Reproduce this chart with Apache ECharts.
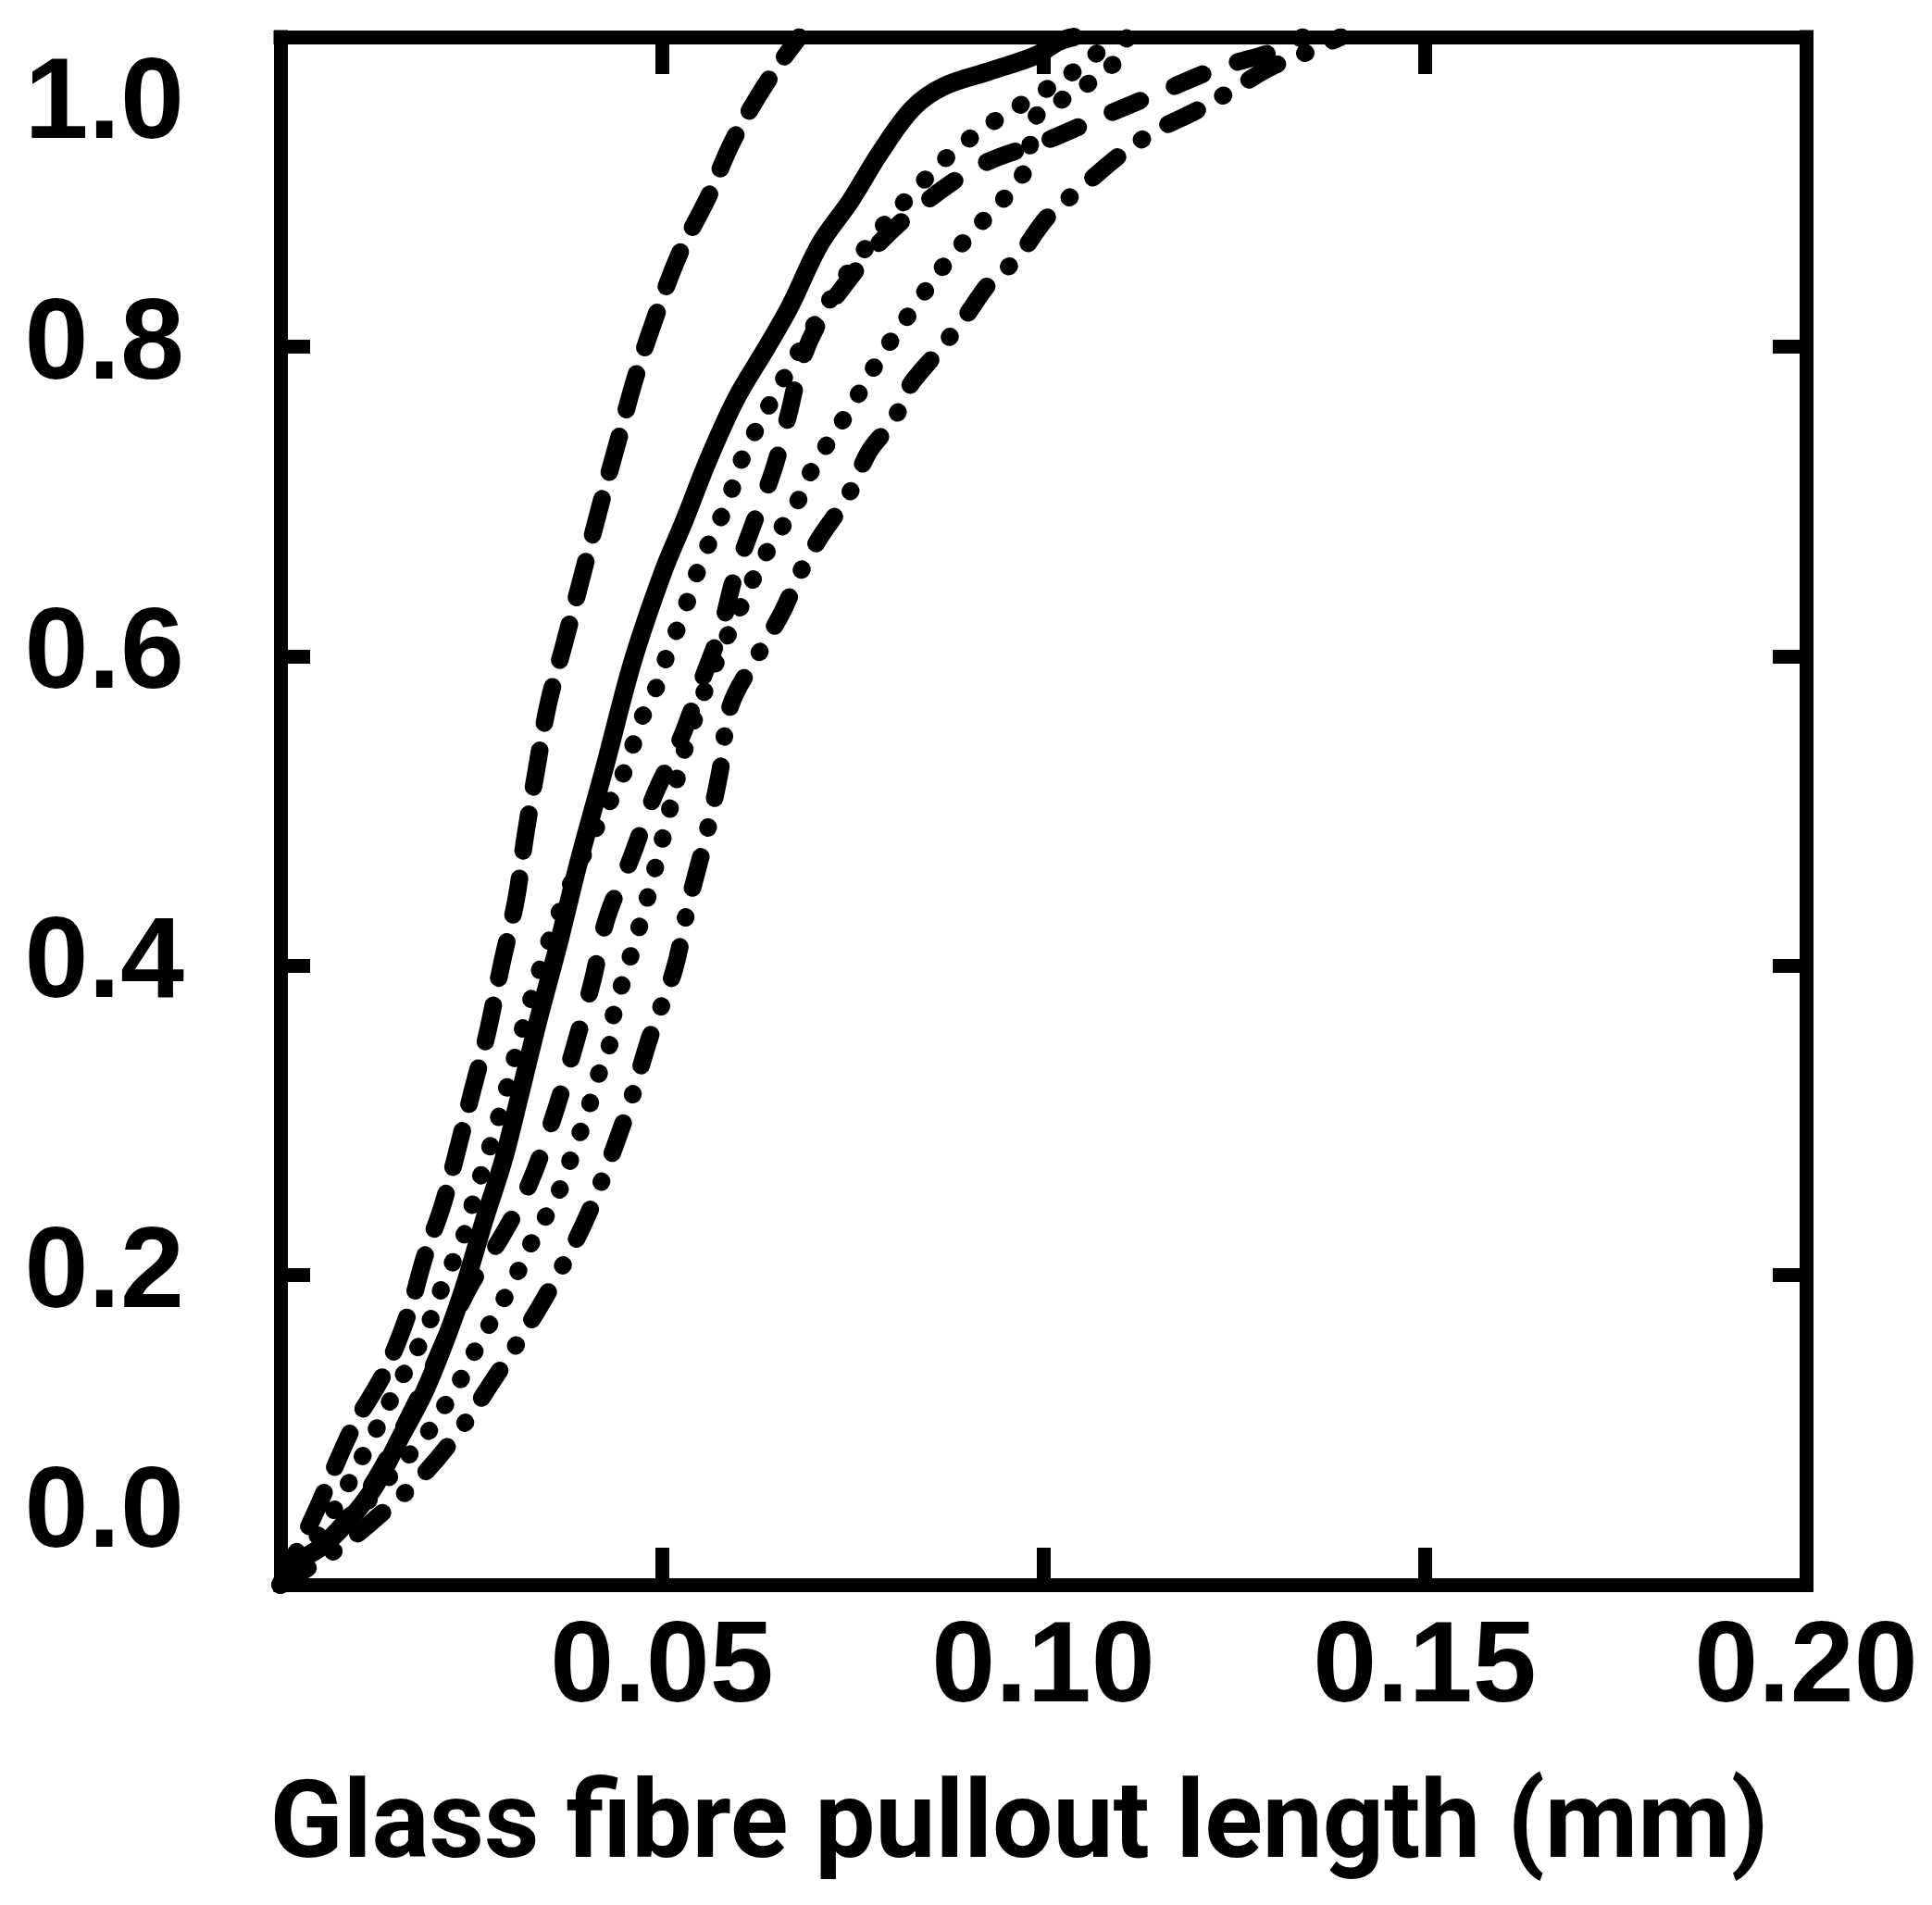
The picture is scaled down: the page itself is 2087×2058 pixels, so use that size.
<!DOCTYPE html>
<html>
<head>
<meta charset="utf-8">
<title>Glass fibre pullout length</title>
<script src="https://cdn.jsdelivr.net/npm/echarts@6/dist/echarts.min.js"></script>
<style>
  html, body { margin: 0; padding: 0; background: #fff; }
  #chart { width: 2087px; height: 2058px; }
</style>
</head>
<body>
<div id="chart"></div>
<script>
// tick values and their printed labels
const xTicks = [0.05, 0.10, 0.15, 0.20];
const xTickLabels = ['0.05', '0.10', '0.15', '0.20'];
const yTicks = [0, 0.2, 0.4, 0.6, 0.8, 1.0];
const yTickLabels = ['0.0', '0.2', '0.4', '0.6', '0.8', '1.0'];
const xAxisTitle = 'Glass fibre pullout length (mm)';

// cumulative curves, [pullout length (mm), fraction]
const longDash = [
  [0, 0], [0.0045, 0.046], [0.0094, 0.101], [0.0136, 0.137], [0.0168, 0.176],
  [0.0189, 0.212], [0.0213, 0.246], [0.0233, 0.283], [0.0252, 0.32], [0.0271, 0.356],
  [0.029, 0.401], [0.0309, 0.443], [0.0321, 0.484], [0.0335, 0.525], [0.0351, 0.569],
  [0.0372, 0.608], [0.0395, 0.651], [0.0419, 0.697], [0.0443, 0.74], [0.0464, 0.778],
  [0.049, 0.817], [0.0523, 0.86], [0.0561, 0.897], [0.0592, 0.932], [0.0629, 0.964],
  [0.0656, 0.984], [0.068, 1.0]
];
const solid = [
  [0, 0], [0.0017, 0.0125], [0.0063, 0.028], [0.0119, 0.06], [0.0157, 0.095],
  [0.0189, 0.125], [0.0217, 0.159], [0.024, 0.191], [0.0268, 0.237], [0.0292, 0.274],
  [0.0315, 0.319], [0.0338, 0.365], [0.0365, 0.415], [0.039, 0.465], [0.0426, 0.53],
  [0.0462, 0.597], [0.0502, 0.655], [0.0529, 0.687], [0.0561, 0.727], [0.0597, 0.766],
  [0.0638, 0.8], [0.0668, 0.826], [0.0707, 0.866], [0.0747, 0.894], [0.0787, 0.926],
  [0.0829, 0.954], [0.0869, 0.968], [0.093, 0.978], [0.099, 0.988], [0.102, 0.997],
  [0.104, 1.0]
];
const dottedInner = [
  [0, 0], [0.006, 0.04], [0.012, 0.095], [0.0155, 0.13], [0.0178, 0.151],
  [0.0196, 0.1705], [0.021, 0.19], [0.0243, 0.229], [0.0254, 0.25], [0.0285, 0.3],
  [0.0318, 0.36], [0.0355, 0.42], [0.04, 0.475], [0.0442, 0.516], [0.0458, 0.535],
  [0.0468, 0.553], [0.0484, 0.571], [0.05, 0.588], [0.0508, 0.604], [0.0525, 0.623],
  [0.0539, 0.644], [0.0553, 0.663], [0.0569, 0.681], [0.0587, 0.7], [0.0599, 0.72],
  [0.0616, 0.739], [0.0655, 0.775], [0.0695, 0.81], [0.074, 0.845], [0.0785, 0.875],
  [0.083, 0.9], [0.088, 0.925], [0.094, 0.947], [0.1, 0.965], [0.106, 0.985],
  [0.109, 1.0]
];
const shortDash = [
  [0, 0], [0.01, 0.05], [0.018, 0.12], [0.0245, 0.19], [0.029, 0.225],
  [0.0326, 0.2587], [0.0357, 0.301], [0.0385, 0.347], [0.0409, 0.39], [0.0428, 0.431],
  [0.046, 0.47], [0.049, 0.51], [0.0525, 0.547], [0.0553, 0.585], [0.0577, 0.617],
  [0.0595, 0.651], [0.0618, 0.683], [0.0646, 0.72], [0.0666, 0.756], [0.0683, 0.79],
  [0.0705, 0.815], [0.0743, 0.842], [0.0787, 0.868], [0.0847, 0.894], [0.0921, 0.918],
  [0.1004, 0.933], [0.1079, 0.949], [0.1152, 0.964], [0.123, 0.98], [0.131, 0.992],
  [0.134, 1.0]
];
const dottedOuter = [
  [0, 0], [0.008, 0.035], [0.0125, 0.06], [0.0191, 0.097], [0.0217, 0.117],
  [0.024, 0.136], [0.0261, 0.157], [0.0289, 0.181], [0.031, 0.201], [0.0329, 0.221],
  [0.035, 0.24], [0.0373, 0.263], [0.0385, 0.283], [0.0401, 0.302], [0.0412, 0.323],
  [0.0431, 0.348], [0.0437, 0.369], [0.0465, 0.416], [0.0479, 0.44], [0.0505, 0.49],
  [0.053, 0.54], [0.0562, 0.585], [0.0597, 0.625], [0.0635, 0.665], [0.0678, 0.7],
  [0.0699, 0.7226], [0.0745, 0.7585], [0.0786, 0.793], [0.083, 0.825], [0.0877, 0.857],
  [0.0926, 0.884], [0.0974, 0.912], [0.0992, 0.95], [0.1023, 0.959], [0.1065, 0.972],
  [0.1098, 0.986], [0.111, 1.0]
];
const dashDot = [
  [0, 0], [0.008, 0.025], [0.013, 0.045], [0.018, 0.0674], [0.0231, 0.0971],
  [0.0278, 0.1315], [0.032, 0.1636], [0.0361, 0.198], [0.0399, 0.2347], [0.0431, 0.2737],
  [0.0459, 0.3126], [0.0485, 0.355], [0.0516, 0.397], [0.0535, 0.44], [0.0558, 0.484],
  [0.0576, 0.525], [0.059, 0.568], [0.0625, 0.6], [0.0658, 0.6287], [0.0681, 0.6537],
  [0.0707, 0.6766], [0.0743, 0.7026], [0.0772, 0.7325], [0.0804, 0.7525], [0.0824, 0.774],
  [0.0857, 0.794], [0.0893, 0.816], [0.0932, 0.8425], [0.0964, 0.856], [0.1006, 0.884],
  [0.1051, 0.903], [0.1096, 0.922], [0.1146, 0.939], [0.1199, 0.952], [0.1249, 0.966],
  [0.1296, 0.98], [0.1345, 0.99], [0.139, 1.0]
];

const chart = echarts.init(document.getElementById('chart'), null, { renderer: 'canvas' });

const labelFont = {
  fontFamily: '"Liberation Sans", Arial, Helvetica, sans-serif',
  fontWeight: 'bold',
  fontSize: 124,
  color: '#000'
};
const frameLine = { color: '#000', width: 15, cap: 'square' };

function pickLabel(ticks, labels) {
  return function (v) {
    const i = ticks.findIndex(t => Math.abs(t - v) < 1e-9);
    return i >= 0 ? labels[i] : '';
  };
}

function curve(name, data, type, width) {
  return {
    name: name,
    type: 'line',
    data: data,
    xAxisIndex: 0,
    yAxisIndex: 0,
    showSymbol: false,
    symbol: 'none',
    smooth: 0.35,
    lineStyle: { color: '#000', width: width, type: type, cap: 'round', join: 'round' }
  };
}

const option = {
  backgroundColor: '#fff',
  animation: false,
  grid: { left: 303, right: 136, top: 40, bottom: 346, containLabel: false },
  xAxis: [
    {
      type: 'value',
      position: 'bottom',
      min: 0,
      max: 0.2,
      interval: 0.05,
      name: xAxisTitle,
      nameLocation: 'middle',
      nameGap: 207,
      nameTextStyle: {
        fontFamily: 'Roboto, "Liberation Sans", Arial, sans-serif',
        fontWeight: 'bold',
        fontSize: 116,
        color: '#000',
        padding: [0, 52, 0, 0]
      },
      axisLine: { show: true, onZero: false, lineStyle: frameLine },
      axisTick: { show: true, inside: true, length: 40, lineStyle: { color: '#000', width: 15 } },
      axisLabel: { ...labelFont, margin: 30, formatter: pickLabel(xTicks, xTickLabels) },
      splitLine: { show: false }
    },
    {
      type: 'value',
      position: 'top',
      min: 0,
      max: 0.2,
      interval: 0.05,
      axisLine: { show: true, onZero: false, lineStyle: frameLine },
      axisTick: { show: true, inside: true, length: 40, lineStyle: { color: '#000', width: 15 } },
      axisLabel: { show: false },
      splitLine: { show: false }
    }
  ],
  yAxis: [
    {
      type: 'value',
      position: 'left',
      min: 0,
      max: 1,
      interval: 0.2,
      axisLine: { show: true, onZero: false, lineStyle: frameLine },
      axisTick: { show: true, inside: true, length: 32, lineStyle: { color: '#000', width: 15 } },
      axisLabel: {
        ...labelFont,
        lineHeight: 150,
        margin: 104,
        verticalAlignMinLabel: 'bottom',
        verticalAlignMaxLabel: 'top',
        formatter: pickLabel(yTicks, yTickLabels)
      },
      splitLine: { show: false }
    },
    {
      type: 'value',
      position: 'right',
      min: 0,
      max: 1,
      interval: 0.2,
      axisLine: { show: true, onZero: false, lineStyle: frameLine },
      axisTick: { show: true, inside: true, length: 36, lineStyle: { color: '#000', width: 15 } },
      axisLabel: { show: false },
      splitLine: { show: false }
    }
  ],
  series: [
    curve('long dash', longDash, [40, 30], 19),
    curve('solid', solid, 'solid', 20),
    curve('dotted inner', dottedInner, [1, 32], 19),
    curve('short dash', shortDash, [33, 40], 19),
    curve('dotted outer', dottedOuter, [1, 32], 19),
    curve('dash dot', dashDot, [35, 32, 1, 32], 19)
  ]
};

chart.setOption(option);
</script>
</body>
</html>
